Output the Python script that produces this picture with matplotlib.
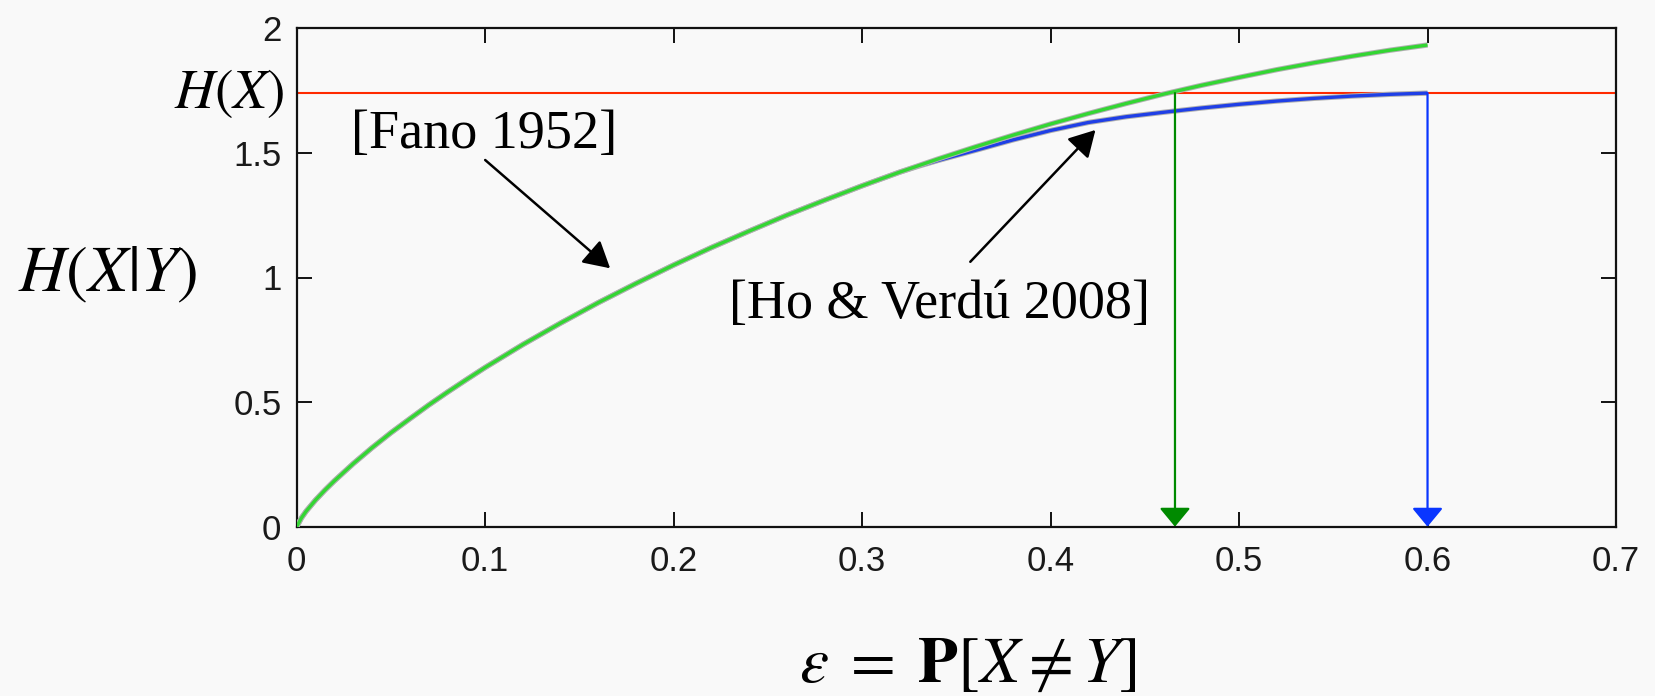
import matplotlib
matplotlib.use("Agg")
import matplotlib.pyplot as plt
import matplotlib.patheffects as pe

# Fano bound on H(X|Y) versus error probability
fano_eps = [0, 0.0025, 0.005, 0.01, 0.015, 0.02, 0.03, 0.04, 0.05, 0.06, 0.07,
            0.08, 0.09, 0.10, 0.12, 0.14, 0.16, 0.18, 0.20, 0.22, 0.24, 0.26,
            0.28, 0.30, 0.32, 0.34, 0.36, 0.38, 0.40, 0.42, 0.44, 0.46, 0.48,
            0.50, 0.52, 0.54, 0.56, 0.58, 0.60]
fano_h = [0, 0.035, 0.062, 0.107, 0.147, 0.184, 0.253, 0.317, 0.377, 0.433, 0.488,
          0.540, 0.590, 0.639, 0.731, 0.817, 0.899, 0.976, 1.050, 1.120, 1.186, 1.250,
          1.310, 1.368, 1.423, 1.475, 1.524, 1.571, 1.616, 1.658, 1.698, 1.736, 1.771,
          1.803, 1.834, 1.862, 1.888, 1.912, 1.933]

# Ho & Verdu bound (tight), coincides with Fano for small error probability
hv_eps = [0, 0.0025, 0.005, 0.01, 0.015, 0.02, 0.03, 0.04, 0.05, 0.06, 0.07,
          0.08, 0.09, 0.10, 0.12, 0.14, 0.16, 0.18, 0.20, 0.22, 0.24, 0.26,
          0.28, 0.30, 0.32, 0.33, 0.34, 0.36, 0.38, 0.40, 0.42, 0.44, 0.46, 0.48,
          0.50, 0.52, 0.54, 0.56, 0.58, 0.60]
hv_h = [0, 0.035, 0.062, 0.107, 0.147, 0.184, 0.253, 0.317, 0.377, 0.433, 0.488,
        0.540, 0.590, 0.639, 0.731, 0.817, 0.899, 0.976, 1.050, 1.120, 1.186, 1.250,
        1.310, 1.368, 1.423, 1.447, 1.469, 1.510, 1.552, 1.590, 1.622, 1.645, 1.663,
        1.680, 1.695, 1.708, 1.719, 1.728, 1.735, 1.740]

# Entropy of X and the error probabilities where each bound reaches it
h_x = 1.74
eps_fano_at_hx = 0.466
eps_hv_at_hx = 0.60

x_ticks = [0, 0.1, 0.2, 0.3, 0.4, 0.5, 0.6, 0.7]
x_tick_labels = ["0", "0.1", "0.2", "0.3", "0.4", "0.5", "0.6", "0.7"]
y_ticks = [0, 0.5, 1, 1.5, 2]
y_tick_labels = ["0", "0.5", "1", "1.5", "2"]

plt.rcParams["mathtext.fontset"] = "stix"
BG = "#f9f9f9"
W, H = 1656, 696

fig = plt.figure(figsize=(W / 100, H / 100), dpi=100, facecolor=BG)
ax = fig.add_axes([296.7 / W, 1 - 526.7 / H, (1616 - 296.7) / W, (526.7 - 28.3) / H])
ax.set_facecolor(BG)
ax.set_xlim(0, 0.7)
ax.set_ylim(0, 2)

for s in ax.spines.values():
    s.set_linewidth(1.6)
    s.set_color("#111111")

ax.set_xticks(x_ticks)
ax.set_xticklabels(x_tick_labels)
ax.set_yticks(y_ticks)
ax.set_yticklabels(y_tick_labels)
ax.tick_params(direction="in", length=11, width=1.4, top=True, right=True,
               labelsize=25, colors="#111111", labelcolor="#1a1a1a",
               labelfontfamily="Liberation Sans")
ax.tick_params(axis="x", pad=13)
ax.tick_params(axis="y", pad=11)

halo = [pe.Stroke(linewidth=3.8, foreground="#b0b0b0"), pe.Normal()]

# H(X) level
ax.axhline(h_x, color="#ff2a00", lw=1.5, zorder=2)

# bounds
ax.plot(hv_eps, hv_h, color="#1f3fe6", lw=2.4, zorder=3, path_effects=halo,
        solid_capstyle="butt", solid_joinstyle="round")
ax.plot(fano_eps, fano_h, color="#33d633", lw=2.4, zorder=4, path_effects=halo,
        solid_capstyle="butt", solid_joinstyle="round")

# drop arrows from H(X) to the error probability axis
for xe, col in [(eps_fano_at_hx, "#008a00"), (eps_hv_at_hx, "#0a36ff")]:
    ax.annotate("", xy=(xe, 0), xytext=(xe, h_x),
                arrowprops=dict(arrowstyle="-|>,head_width=0.48,head_length=0.58",
                                mutation_scale=20, color=col, lw=1.6,
                                shrinkA=0, shrinkB=0),
                annotation_clip=False, zorder=5)

serif = "Liberation Serif"
ax.text(0.0995, 1.518, "[Fano 1952]", fontsize=39, family=serif,
        ha="center", va="baseline", zorder=6)
ax.annotate("", xy=(0.1663, 1.037), xytext=(0.100, 1.4715),
            arrowprops=dict(arrowstyle="-|>,head_width=0.45,head_length=0.8",
                            mutation_scale=20, color="black", lw=1.8,
                            shrinkA=0, shrinkB=0), zorder=6)

ax.text(0.3411, 0.836, "[Ho & Verdú 2008]", fontsize=39, family=serif,
        ha="center", va="baseline", zorder=6)
ax.annotate("", xy=(0.4238, 1.592), xytext=(0.3574, 1.063),
            arrowprops=dict(arrowstyle="-|>,head_width=0.45,head_length=0.8",
                            mutation_scale=20, color="black", lw=1.8,
                            shrinkA=0, shrinkB=0), zorder=6)

# H(X) label beside the axis
ax.text(-0.0062, 1.679, r"$H(X)$", fontsize=40, ha="right", va="baseline",
        clip_on=False)

# axis titles
fig.text(108 / W, 1 - 291.7 / H, r"$H(X|Y)$", fontsize=47, ha="center", va="baseline")
fig.text(968 / W, 1 - 681.7 / H, r"$\varepsilon\;=\;\mathbf{P}[X \neq Y]$",
         fontsize=47, ha="center", va="baseline")

fig.savefig("out.png", dpi=100, facecolor=BG)
